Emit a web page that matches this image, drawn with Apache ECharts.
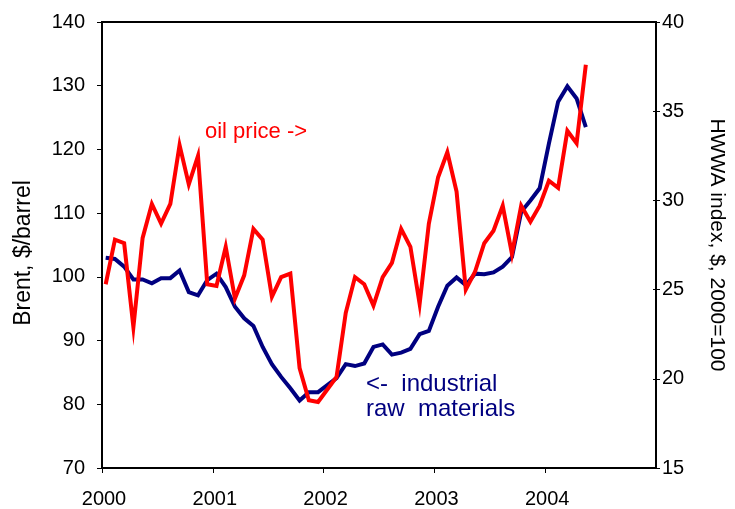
<!DOCTYPE html>
<html>
<head>
<meta charset="utf-8">
<script src="https://cdn.jsdelivr.net/npm/echarts@6/dist/echarts.min.js"></script>
<style>
  html, body { margin: 0; padding: 0; background: #fff; }
  #chart { width: 735px; height: 509px; }
</style>
</head>
<body>
<div id="chart"></div>
<script>
// Monthly observations, Jan 2000 - May 2004
var months = [
  '2000-01','2000-02','2000-03','2000-04','2000-05','2000-06','2000-07','2000-08','2000-09','2000-10','2000-11','2000-12',
  '2001-01','2001-02','2001-03','2001-04','2001-05','2001-06','2001-07','2001-08','2001-09','2001-10','2001-11','2001-12',
  '2002-01','2002-02','2002-03','2002-04','2002-05','2002-06','2002-07','2002-08','2002-09','2002-10','2002-11','2002-12',
  '2003-01','2003-02','2003-03','2003-04','2003-05','2003-06','2003-07','2003-08','2003-09','2003-10','2003-11','2003-12',
  '2004-01','2004-02','2004-03','2004-04','2004-05'
];

// HWWA industrial raw materials index (left axis)
var rawMaterials = [
  103.0,102.8,101.6,99.6,99.6,99.0,99.8,99.8,101.0,97.6,97.1,99.5,
  100.5,98.4,95.3,93.5,92.3,89.0,86.3,84.3,82.5,80.6,81.9,81.9,
  83.0,84.1,86.3,86.0,86.4,89.0,89.4,87.8,88.1,88.7,91.0,91.5,
  95.3,98.6,99.9,98.7,100.5,100.4,100.7,101.6,103.1,110.2,112.0,113.9,
  120.9,127.5,129.9,128.0,123.5
];

// Brent oil price (right axis)
var oilPrice = [
  25.3,27.8,27.6,22.9,27.9,29.8,28.7,29.8,33.1,30.9,32.5,25.3,
  25.2,27.4,24.5,25.8,28.4,27.8,24.6,25.7,25.9,20.6,18.8,18.7,
  19.4,20.1,23.7,25.7,25.3,24.1,25.7,26.5,28.4,27.4,24.2,28.7,
  31.3,32.7,30.5,25.0,26.0,27.6,28.3,29.7,27.0,29.7,28.8,29.7,
  31.1,30.7,33.9,33.2,37.6
];

var yearTicks = [2000, 2001, 2002, 2003, 2004, 2005];
var leftTicks = [70, 80, 90, 100, 110, 120, 130, 140];
var rightTicks = [15, 20, 25, 30, 35, 40];

function toDecimal(m) {
  var p = m.split('-');
  return +p[0] + (+p[1] - 1 + 0.4) / 12;
}
var rawData = months.map(function (m, i) { return [toDecimal(m), rawMaterials[i]]; });
var oilData = months.map(function (m, i) { return [toDecimal(m), oilPrice[i]]; });

var FONT = '"Liberation Sans", Arial, sans-serif';
var chart = echarts.init(document.getElementById('chart'), null, { renderer: 'canvas' });

chart.setOption({
  animation: false,
  backgroundColor: '#ffffff',
  textStyle: { fontFamily: FONT },
  grid: {
    left: 102, top: 22, right: 77, bottom: 41,
    show: true, borderColor: '#000', borderWidth: 2, backgroundColor: 'transparent'
  },
  xAxis: {
    type: 'value',
    min: yearTicks[0], max: yearTicks[yearTicks.length - 1], interval: 1,
    axisLine: { show: true, onZero: false, lineStyle: { color: '#000', width: 2 } },
    axisTick: { show: true, inside: false, length: 5, lineStyle: { color: '#000', width: 1 } },
    splitLine: { show: false },
    axisLabel: {
      color: '#000', fontSize: 20, fontFamily: FONT, margin: 21,
      padding: [0, 0, 0, 4],
      formatter: function (v) { return String(Math.round(v)); },
      showMaxLabel: false
    }
  },
  yAxis: [
    {
      type: 'value', position: 'left',
      min: leftTicks[0], max: leftTicks[leftTicks.length - 1], interval: 10,
      axisLine: { show: true, lineStyle: { color: '#000', width: 2 } },
      axisTick: { show: true, inside: false, length: 5, lineStyle: { color: '#000', width: 1 } },
      splitLine: { show: false },
      axisLabel: { color: '#000', fontSize: 20, fontFamily: FONT, margin: 17 }
    },
    {
      type: 'value', position: 'right',
      min: rightTicks[0], max: rightTicks[rightTicks.length - 1], interval: 5,
      name: 'HWWA index, $, 2000=100', nameLocation: 'middle', nameGap: 50, nameRotate: -90,
      nameTextStyle: { color: '#000', fontSize: 21, fontFamily: FONT },
      axisLine: { show: true, lineStyle: { color: '#000', width: 2 } },
      axisTick: { show: true, inside: false, length: 4, lineStyle: { color: '#000', width: 1 } },
      splitLine: { show: false },
      axisLabel: { color: '#000', fontSize: 20, fontFamily: FONT, margin: 6 }
    },
    {
      // inner half of the crossing ticks on the right axis
      type: 'value', position: 'right',
      min: rightTicks[0], max: rightTicks[rightTicks.length - 1], interval: 5,
      axisLine: { show: false },
      axisTick: { show: true, inside: true, length: 3, lineStyle: { color: '#000', width: 1 } },
      axisLabel: { show: false },
      splitLine: { show: false }
    }
  ],
  series: [
    {
      name: 'industrial raw materials', type: 'line', yAxisIndex: 0,
      data: rawData, showSymbol: false, symbol: 'none',
      lineStyle: { color: '#000080', width: 4, join: 'miter' }, z: 2
    },
    {
      name: 'oil price', type: 'line', yAxisIndex: 1,
      data: oilData, showSymbol: false, symbol: 'none',
      lineStyle: { color: '#ff0000', width: 4, join: 'miter' }, z: 3
    }
  ],
  graphic: [
    {
      type: 'text', x: 24, y: 253, rotation: Math.PI / 2, z: 10,
      style: { text: 'Brent, $/barrel', fill: '#000', font: '23px ' + FONT, align: 'center', verticalAlign: 'middle' }
    },
    {
      type: 'text', left: 205, top: 121, z: 10,
      style: { text: 'oil price ->', fill: '#ff0000', font: '22px ' + FONT }
    },
    {
      type: 'text', left: 366, top: 372, z: 10,
      style: { text: '<-  industrial\nraw  materials', fill: '#000080', font: '24px ' + FONT, lineHeight: 25 }
    }
  ]
});
</script>
</body>
</html>
